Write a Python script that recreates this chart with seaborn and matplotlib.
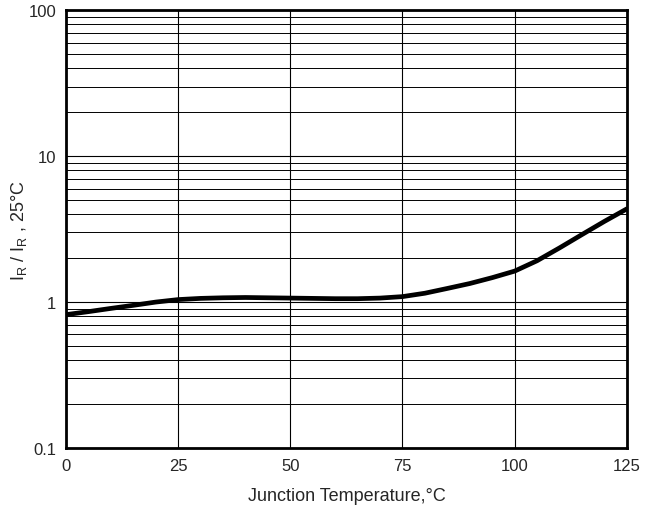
import matplotlib
matplotlib.use("Agg")
import matplotlib.pyplot as plt
import seaborn as sns
import pandas as pd
from matplotlib.ticker import FixedLocator, NullFormatter

temps = [0, 5, 10, 15, 20, 25, 30, 35, 40, 45, 50, 55, 60, 65, 70, 75, 80, 85, 90, 95, 100, 105, 110, 115, 120, 125]
ratio = [0.82, 0.86, 0.905, 0.95, 1.0, 1.04, 1.06, 1.07, 1.075, 1.07, 1.065, 1.06, 1.055, 1.055, 1.065, 1.09,
         1.15, 1.24, 1.34, 1.47, 1.63, 1.92, 2.35, 2.90, 3.57, 4.35]
xticks = [0, 25, 50, 75, 100, 125]
yticks = [0.1, 1, 10, 100]
ytick_labels = ["0.1", "1", "10", "100"]

sns.set_style("white")
plt.rcParams['font.family'] = ['Liberation Sans', 'DejaVu Sans']

df = pd.DataFrame({"T": temps, "R": ratio})
fig = plt.figure(figsize=(6.57, 5.10), dpi=100)
ax = fig.add_axes([0.1005, 0.1196, 0.8535, 0.8584])
sns.lineplot(data=df, x="T", y="R", ax=ax, color="black", linewidth=3.4)
ax.set_yscale("log")
ax.set_xlim(0, 125)
ax.set_ylim(0.1, 100)
ax.set_xticks(xticks)
ax.set_xticklabels([str(t) for t in xticks])
ax.set_yticks(yticks)
ax.set_yticklabels(ytick_labels)
minor = [m * 10.0**e for e in (-1, 0, 1) for m in range(2, 10)]
ax.yaxis.set_minor_locator(FixedLocator(minor))
ax.yaxis.set_minor_formatter(NullFormatter())
ax.grid(True, which="major", color="black", linewidth=0.8)
ax.grid(True, which="minor", axis="y", color="black", linewidth=0.7)
ax.tick_params(axis="both", which="both", length=0, labelsize=12, pad=7)
for s in ax.spines.values():
    s.set_color("black")
    s.set_linewidth(2)
ax.set_xlabel("Junction Temperature,°C", fontsize=13, labelpad=10)
ax.set_ylabel("I$_\\mathregular{R}$ / I$_\\mathregular{R}$ , 25°C", fontsize=13, labelpad=0)
fig.savefig("out.png", dpi=100)
